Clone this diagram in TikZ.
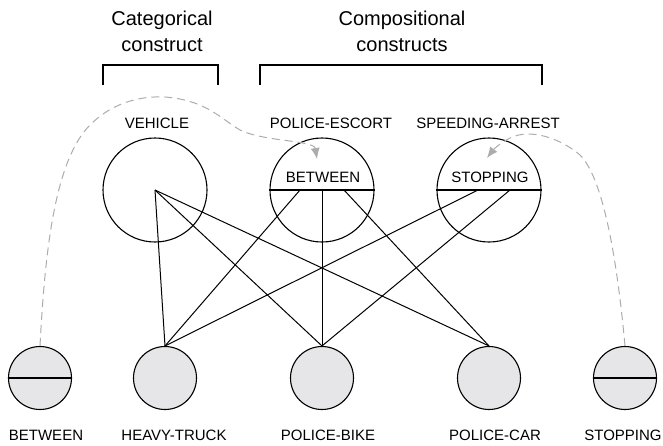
\documentclass[tikz,border=0pt]{standalone}
\usepackage{fontspec}
\setmainfont{Liberation Sans}
\usetikzlibrary{arrows.meta}
\definecolor{dashgrey}{RGB}{172,172,175}
\definecolor{nodefill}{RGB}{230,230,232}
\tikzset{
  bigcirc/.style={circle, draw, line width=1.1pt, minimum size=104pt, inner sep=0pt},
  smallcirc/.style={circle, draw, line width=1.1pt, fill=nodefill, minimum size=63pt, inner sep=0pt},
  lbl/.style={font=\fontsize{15}{17}\selectfont, inner sep=0pt},
  ttl/.style={font=\fontsize{20}{26}\selectfont, align=center, inner sep=0pt},
  link/.style={line width=1pt},
  bracket/.style={line width=1.6pt},
  dashline/.style={draw=dashgrey, line width=1pt, dash pattern=on 8pt off 5pt, -{Latex[length=11pt,width=9pt]}},
}
\begin{document}
\begin{tikzpicture}[x=1pt,y=-1pt]
\useasboundingbox (0,0) rectangle (663,445);
% titles
\node[ttl] (t1) at (162,31) {Categorical\\construct};
\node[ttl] (t2) at (402,31) {Compositional\\constructs};
% brackets
\draw[bracket] (103,85) -- (103,65) -- (218,65) -- (218,85);
\draw[bracket] (260,85) -- (260,65) -- (542,65) -- (542,85);
% top circles
\node[bigcirc] (v) at (155,190) {};
\node[bigcirc] (pe) at (322,190) {};
\node[bigcirc] (sa) at (489,190) {};
\draw[line width=1.5pt] (pe.west) -- (pe.east);
\draw[line width=1.5pt] (sa.west) -- (sa.east);
\node[lbl] (vl) at (157,123) {VEHICLE};
\node[lbl] (pel) at (331,123) {POLICE-ESCORT};
\node[lbl] (sal) at (488,123) {SPEEDING-ARREST};
\node[lbl] (peb) at (323,177) {BETWEEN};
\node[lbl] (sas) at (490,177) {STOPPING};
% bottom circles
\node[smallcirc] (b1) at (40,378) {};
\node[smallcirc] (ht) at (165,378) {};
\node[smallcirc] (pb) at (322,378) {};
\node[smallcirc] (pc) at (489,378) {};
\node[smallcirc] (b5) at (625,378) {};
\draw[line width=1.6pt] (b1.west) -- (b1.east);
\draw[line width=1.6pt] (b5.west) -- (b5.east);
\node[lbl] (b1l) at (46,435) {BETWEEN};
\node[lbl] (htl) at (174,435) {HEAVY-TRUCK};
\node[lbl] (pbl) at (328,435) {POLICE-BIKE};
\node[lbl] (pcl) at (495,435) {POLICE-CAR};
\node[lbl] (b5l) at (623,435) {STOPPING};
% links
\draw[link] (v.center) -- (ht.north);
\draw[link] (v.center) -- (pb.north);
\draw[link] (v.center) -- (pc.north);
\draw[link] ([xshift=-22pt]pe.center) -- (ht.north);
\draw[link] (pe.center) -- (pb.north);
\draw[link] ([xshift=22pt]pe.center) -- (pc.north);
\draw[link] ([xshift=-11pt]sa.center) -- (ht.north);
\draw[link] ([xshift=21pt]sa.center) -- (pb.north);
% dashed arrows
\coordinate (d1) at (317,159);
\coordinate (d2) at (487,158);
\draw[dashline] (b1.north) .. controls (45,250) and (55,160) .. (90,125)
  .. controls (115,100) and (145,96) .. (165,97)
  .. controls (205,100) and (220,118) .. (240,130)
  .. controls (265,142) and (314,140) .. (d1);
\draw[dashline] (b5.north) .. controls (618,270) and (605,180) .. (580,155)
  .. controls (560,138) and (530,128) .. (510,138)
  .. controls (500,143) and (493,150) .. (d2);
\end{tikzpicture}
\end{document}
